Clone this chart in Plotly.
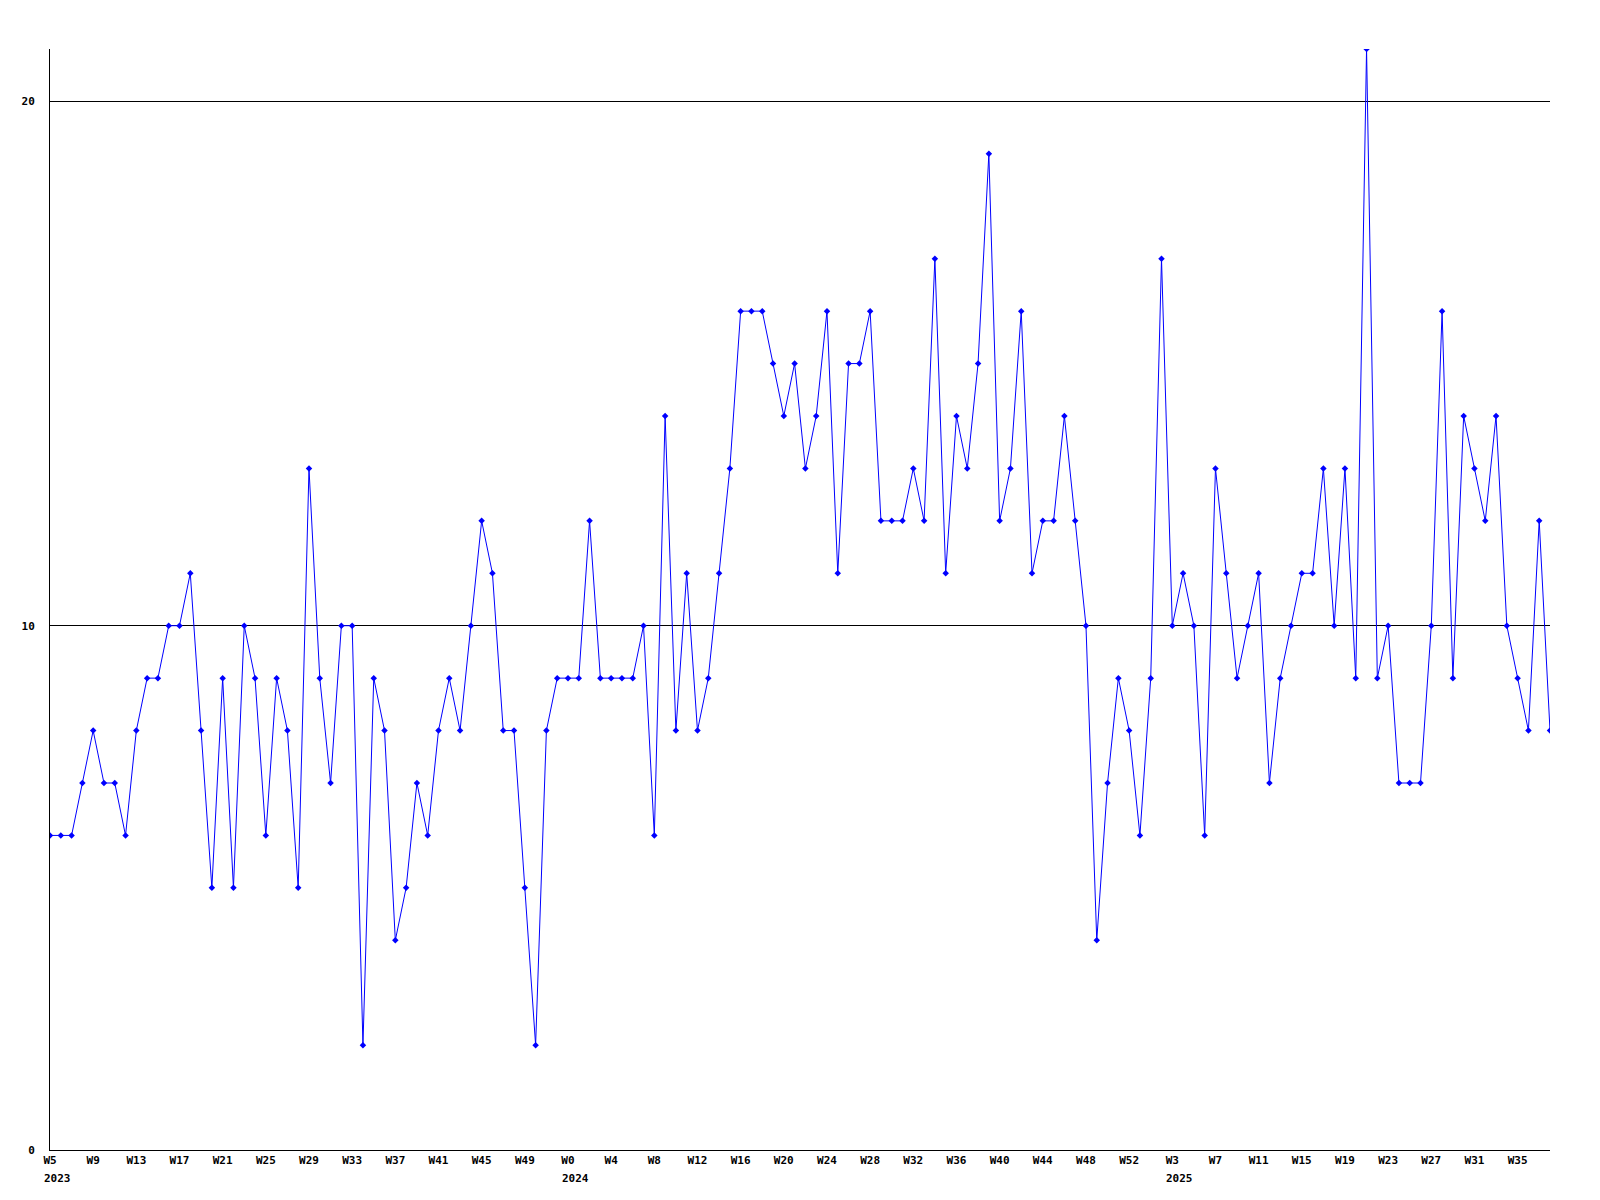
import plotly.graph_objects as go

values = [6, 6, 6, 7, 8, 7, 7, 6, 8, 9, 9, 10, 10, 11, 8, 5, 9, 5, 10, 9,
          6, 9, 8, 5, 13, 9, 7, 10, 10, 2, 9, 8, 4, 5, 7, 6, 8, 9, 8, 10,
          12, 11, 8, 8, 5, 2, 8, 9, 9, 9, 12, 9, 9, 9, 9, 10, 6, 14, 8, 11,
          8, 9, 11, 13, 16, 16, 16, 15, 14, 15, 13, 14, 16, 11, 15, 15, 16, 12, 12, 12,
          13, 12, 17, 11, 14, 13, 15, 19, 12, 13, 16, 11, 12, 12, 14, 12, 10, 4, 7, 9,
          8, 6, 9, 17, 10, 11, 10, 6, 13, 11, 9, 10, 11, 7, 9, 10, 11, 11, 13, 10,
          13, 9, 21, 9, 10, 7, 7, 7, 10, 16, 9, 14, 13, 12, 14, 10, 9, 8, 12, 8]

tick_labels = ["W5", "W9", "W13", "W17", "W21", "W25", "W29", "W33", "W37", "W41", "W45", "W49",
               "W0", "W4", "W8", "W12", "W16", "W20", "W24", "W28", "W32", "W36", "W40", "W44", "W48", "W52",
               "W3", "W7", "W11", "W15", "W19", "W23", "W27", "W31", "W35"]
tick_step = 4

year_labels = ["2023", "2024", "2025"]
year_tick_names = ["W5", "W0", "W3"]

x = list(range(len(values)))
tickvals = [i * tick_step for i in range(len(tick_labels))]

font_family = "DejaVu Sans Mono"

fig = go.Figure()
fig.add_trace(go.Scatter(
    x=x, y=values, mode="lines+markers",
    line=dict(color="#0000FF", width=1),
    marker=dict(symbol="diamond", size=5, color="#0000FF"),
    hoverinfo="skip", showlegend=False,
))

annotations = []
for yl, name in zip(year_labels, year_tick_names):
    xi = tickvals[tick_labels.index(name)]
    annotations.append(dict(
        x=xi, y=0, xref="x", yref="paper", text="<b>%s</b>" % yl,
        showarrow=False, xanchor="left", yanchor="top", xshift=-8, yshift=-20,
        font=dict(family=font_family, size=11, color="black"),
    ))

fig.update_layout(
    width=1600, height=1200,
    margin=dict(l=42, r=58, t=41, b=58),
    paper_bgcolor="white", plot_bgcolor="white",
    showlegend=False,
    annotations=annotations,
    font=dict(family=font_family, size=11, color="black"),
    xaxis=dict(
        range=[0, len(values) - 1],
        tickmode="array", tickvals=tickvals,
        ticktext=["<b>%s</b>" % t for t in tick_labels],
        showgrid=False, zeroline=False,
        showline=True, linecolor="black", linewidth=1,
        ticks="", tickangle=0, automargin=False,
        tickfont=dict(family=font_family, size=11, color="black"),
    ),
    yaxis=dict(
        range=[0, 21],
        tickmode="array", tickvals=[0, 10, 20],
        ticktext=["<b>0</b>", "<b>10</b>", "<b>20</b>"],
        showgrid=True, gridcolor="black", gridwidth=1,
        zeroline=False,
        showline=True, linecolor="black", linewidth=1,
        ticks="", ticklabelstandoff=12, automargin=False,
        tickfont=dict(family=font_family, size=11, color="black"),
    ),
)

fig.write_html("out.html")
